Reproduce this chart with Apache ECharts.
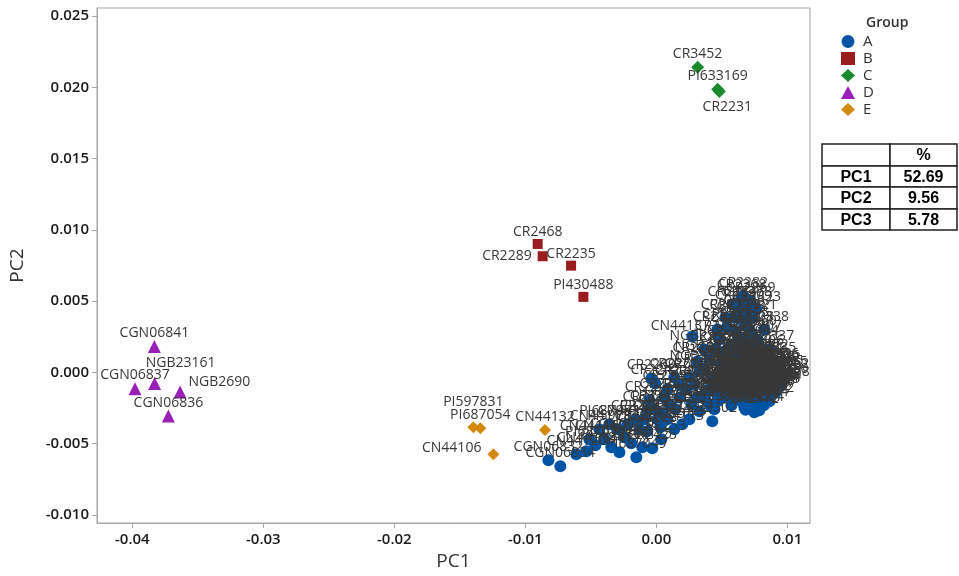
<!DOCTYPE html>
<html>
<head>
<meta charset="utf-8">
<script src="https://cdn.jsdelivr.net/npm/echarts/dist/echarts.min.js"></script>
<style>
  html, body { margin: 0; padding: 0; background: #fff; }
  #chart { width: 959px; height: 576px; }
</style>
</head>
<body>
<div id="chart"></div>
<script>
// [name, PC1, PC2]
const groupA = [
  ['CGN06832', -0.00824, -0.00616], ['CGN06834', -0.00733, -0.00658], ['CN44120', -0.00611, -0.00574],
  ['CN44118', -0.00534, -0.00553], ['PI687050', -0.00466, -0.00511], ['CN44109', -0.00397, -0.00469],
  ['PI597830', -0.00344, -0.00525], ['CN44115', -0.00282, -0.00560], ['CGN06838', -0.00244, -0.00455],
  ['CN44121', -0.00191, -0.00497], ['PI687049', -0.00153, -0.00595], ['CN44125', -0.00107, -0.00525],
  ['CR2425', -0.00031, -0.00532], ['CN44128', -0.00069, -0.00413], ['CR2261', -0.00130, -0.00399],
  ['PI597829', -0.00298, -0.00399], ['CN44130', -0.00221, -0.00364], ['CR2246', -0.00053, -0.00196],
  ['CR2269', -0.00038, -0.00042], ['CR2242', -0.00008, -0.00077], ['CR2241', -0.00069, -0.00266],
  ['CR2253', 0.00038, -0.00469], ['CR2255', 0.00031, -0.00385], ['CR2273', 0.00084, -0.00329],
  ['CN44113', 0.00137, -0.00399], ['CR2423', 0.00198, -0.00364], ['CR2274', 0.00252, -0.00329],
  ['CN44137', 0.00275, 0.00252], ['CR2302', 0.00427, -0.00343], ['CR2277', 0.00328, -0.00273],
  ['CR2281', 0.00374, -0.00189], ['CR2257', 0.00099, -0.00224], ['CR2258', 0.00176, -0.00175],
  ['CR2262', 0.00229, -0.00119], ['CR2263', 0.00290, -0.00084], ['CR2254', 0.00046, -0.00287],
  ['CR2259', 0.00145, -0.00259], ['CR2265', 0.00267, -0.00224], ['CR2312', 0.00748, -0.00280],
  ['CR2324', 0.00672, -0.00245], ['CR2296', 0.00573, -0.00231], ['CR2291', 0.00519, -0.00175],
  ['CR2286', 0.00466, -0.00154], ['CR2283', 0.00420, -0.00084], ['NGB23160', 0.00366, 0.00021],
  ['NGB23158', 0.00405, 0.00091], ['CR2966', 0.00443, 0.00161], ['CR2292', 0.00481, 0.00231],
  ['CR2288', 0.00542, 0.00315], ['CR2279', 0.00595, 0.00385], ['CR2280', 0.00634, 0.00455],
  ['CR2278', 0.00695, 0.00476], ['CR2284', 0.00580, 0.00476], ['CR2298', 0.00649, 0.00371],
  ['CR2308', 0.00710, 0.00301], ['CR2293', 0.00519, 0.00147], ['CR2295', 0.00573, 0.00196],
  ['CR2299', 0.00634, 0.00245], ['CR2964', 0.00748, 0.00196], ['CR2306', 0.00786, 0.00126],
  ['CR2300', 0.00618, 0.00091], ['CR2304', 0.00695, 0.00056], ['CR2316', 0.00824, 0.00035],
  ['CR2318', 0.00878, -0.00014], ['CR2320', 0.00920, -0.00049], ['CN44150', 0.00935, -0.00070],
  ['CN44152', 0.00940, -0.00035], ['CR2322', 0.00915, 0.00007], ['CR2326', 0.00901, -0.00105],
  ['CR2328', 0.00824, -0.00154], ['CR2330', 0.00771, -0.00084], ['CR2310', 0.00649, -0.00119],
  ['CR2297', 0.00557, -0.00084], ['CR2290', 0.00481, -0.00014], ['CR2294', 0.00542, 0.00035],
  ['CR2314', 0.00725, -0.00189], ['CR2332', 0.00863, -0.00203], ['CR2311', 0.00618, -0.00161],
  ['CR2287', 0.00443, -0.00259], ['CR3024', 0.00786, -0.00266], ['CR2285', 0.00496, 0.00077],
  ['CR2301', 0.00595, 0.00007], ['CR2305', 0.00672, -0.00035], ['CR2309', 0.00748, 0.00007],
  ['CR2315', 0.00802, -0.00049], ['CR2319', 0.00847, -0.00105], ['CR2325', 0.00910, -0.00140],
  ['CR2327', 0.00925, -0.00091], ['CR2303', 0.00695, 0.00161], ['CR2307', 0.00771, 0.00231],
  ['CR2313', 0.00672, 0.00336], ['CR2317', 0.00603, 0.00287], ['CR2272', 0.00527, 0.00385],
  ['CR2321', 0.00733, 0.00385], ['CR2323', 0.00763, 0.00441], ['CR2282', 0.00664, 0.00539],
  ['CR2329', 0.00595, 0.00126], ['CR2275', 0.00443, -0.00035], ['CR2276', 0.00389, -0.00133],
  ['CR2271', 0.00313, -0.00175], ['CR2370', 0.00496, -0.00105], ['CR2331', 0.00580, -0.00175],
  ['CR2333', 0.00649, -0.00203], ['CR2334', 0.00802, 0.00056], ['CR2335', 0.00880, 0.00077],
  ['CR2336', 0.00905, 0.00021], ['CR2337', 0.00863, 0.00161], ['CR2338', 0.00824, 0.00301],
  ['CN44155', 0.00930, -0.00021], ['CN44158', 0.00945, -0.00091], ['CN44111', -0.00435, -0.00399],
  ['PI687052', -0.00359, -0.00364], ['CN44116', -0.00511, -0.00469], ['CR2248', -0.00160, -0.00329],
  ['CR2249', -0.00092, -0.00329], ['CR2250', 0.00008, -0.00329], ['CR2243', -0.00015, -0.00259],
  ['CR2244', 0.00061, -0.00175], ['CR2245', 0.00084, -0.00119], ['CR2266', 0.00176, -0.00084],
  ['CR2267', 0.00137, -0.00035], ['CR2268', 0.00252, -0.00035], ['CR2270', 0.00328, 0.00007],
  ['CR2264', 0.00313, 0.00077], ['NGB23159', 0.00366, 0.00161], ['CR2339', 0.00466, 0.00301],
  ['CR2340', 0.00510, 0.00050], ['CR2341', 0.00560, -0.00040], ['CR2342', 0.00620, -0.00020],
  ['CR2343', 0.00690, -0.00100], ['CR2344', 0.00740, -0.00060], ['CR2345', 0.00780, -0.00140],
  ['CR2346', 0.00840, -0.00060], ['CR2347', 0.00880, -0.00110], ['CR2348', 0.00920, -0.00100],
  ['CR2349', 0.00720, 0.00100], ['CR2350', 0.00650, 0.00020], ['CR2351', 0.00600, -0.00110],
  ['CR2352', 0.00700, -0.00150], ['CR2353', 0.00760, -0.00200], ['CR2354', 0.00820, -0.00230],
  ['CR2355', 0.00540, -0.00130], ['CR2356', 0.00470, -0.00200], ['CR2357', 0.00410, -0.00230],
  ['CR2358', 0.00620, 0.00150], ['CR2359', 0.00680, 0.00230], ['CR2360', 0.00730, 0.00270],
  ['CR2361', 0.00790, 0.00080], ['CR2362', 0.00850, 0.00030], ['CR2363', 0.00890, -0.00040],
  ['CR2364', 0.00915, -0.00120], ['CR2365', 0.00935, -0.00010], ['CR2366', 0.00900, 0.00040],
  ['CR2367', 0.00700, 0.00410], ['CR2368', 0.00650, 0.00520], ['CR2369', 0.00720, 0.00500],
  // dense core
  ['CR2401', 0.00598, -0.00052], ['CR2402', 0.00612, -0.00098], ['CR2403', 0.00627, -0.00141],
  ['CR2404', 0.00641, -0.00066], ['CR2405', 0.00655, -0.00183], ['CR2406', 0.00668, -0.00112],
  ['CR2407', 0.00676, -0.00058], ['CR2408', 0.00684, -0.00157], ['CR2409', 0.00693, -0.00201],
  ['CR2410', 0.00702, -0.00079], ['CR2411', 0.00709, -0.00128], ['CR2412', 0.00715, -0.00172],
  ['CR2413', 0.00722, -0.00043], ['CR2414', 0.00731, -0.00095], ['CR2415', 0.00737, -0.00148],
  ['CR2416', 0.00744, -0.00209], ['CR2417', 0.00752, -0.00067], ['CR2418', 0.00757, -0.00118],
  ['CR2419', 0.00763, -0.00163], ['CR2420', 0.00770, -0.00034], ['CR2421', 0.00776, -0.00102],
  ['CR2422', 0.00783, -0.00188], ['CR2426', 0.00790, -0.00071], ['CR2427', 0.00796, -0.00135],
  ['CR2428', 0.00803, -0.00012], ['CR2429', 0.00810, -0.00088], ['CR2430', 0.00817, -0.00176],
  ['CR2431', 0.00823, -0.00119], ['CR2432', 0.00830, -0.00049], ['CR2433', 0.00838, -0.00157],
  ['CR2434', 0.00845, -0.00080], ['CR2435', 0.00853, -0.00132], ['CR2436', 0.00861, -0.00028],
  ['CR2437', 0.00869, -0.00168], ['CR2438', 0.00877, -0.00076], ['CR2439', 0.00885, -0.00121],
  ['CR2440', 0.00607, -0.00021], ['CR2441', 0.00639, -0.00112], ['CR2442', 0.00662, -0.00026],
  ['CR2443', 0.00688, -0.00131], ['CR2444', 0.00711, -0.00062], ['CR2445', 0.00733, -0.00177],
  ['CR2446', 0.00749, -0.00104], ['CR2447', 0.00766, -0.00054], ['CR2448', 0.00788, -0.00149],
  ['CR2449', 0.00806, -0.00061], ['CR2450', 0.00826, -0.00143], ['CR2451', 0.00848, -0.00097],
  ['CR2452', 0.00866, -0.00055], ['CR2453', 0.00630, -0.00195], ['CR2454', 0.00697, -0.00221],
  ['CR2455', 0.00759, -0.00236], ['CR2456', 0.00729, -0.00254], ['CR2457', 0.00681, -0.00262],
  ['CR2458', 0.00580, -0.00061], ['CR2459', 0.00565, -0.00121], ['CR2460', 0.00588, -0.00158],
  ['CR2461', 0.00545, 0.00012], ['CR2462', 0.00622, 0.00041], ['CR2463', 0.00690, 0.00008],
  ['CR2464', 0.00741, 0.00030], ['CR2465', 0.00795, 0.00019], ['CR2466', 0.00842, 0.00004],
  ['CR2467', 0.00872, -0.00022], ['CR2469', 0.00652, 0.00072], ['CR2470', 0.00712, 0.00061],
  ['CR2471', 0.00768, 0.00085], ['CR2472', 0.00822, 0.00102], ['CR2473', 0.00757, -0.00273],
  ['CR2474', 0.00535, -0.00092], ['CR2475', 0.00571, -0.00143], ['CR2476', 0.00603, -0.00187],
  ['CR2477', 0.00646, -0.00159], ['CR2478', 0.00677, -0.00194], ['CR2479', 0.00719, -0.00211],
  ['CR2480', 0.00773, -0.00219], ['CR2481', 0.00807, -0.00196], ['CR2482', 0.00838, -0.00184],
  ['CR2483', 0.00872, -0.00151], ['CR2484', 0.00899, -0.00127], ['CR2485', 0.00528, -0.00146],
  ['CR2486', 0.00617, -0.00129], ['CR2487', 0.00705, -0.00104], ['CR2488', 0.00795, -0.00109],
  ['CR2489', 0.00858, -0.00113], ['CR2490', 0.00742, -0.00128], ['CR2491', 0.00664, -0.00081]
];
const groupB = [
  ['CR2468', -0.00906, 0.00901], ['CR2289', -0.00868, 0.00815],
  ['CR2235', -0.00651, 0.00749], ['PI430488', -0.00557, 0.00530]
];
const groupC = [
  ['CR3452', 0.00315, 0.02141], ['PI633169', 0.00468, 0.01987], ['CR2231', 0.00481, 0.01971]
];
const groupD = [
  ['CGN06841', -0.03832, 0.00182], ['NGB23161', -0.03830, -0.00077], ['CGN06837', -0.03980, -0.00114],
  ['NGB2690', -0.03636, -0.00138], ['CGN06836', -0.03725, -0.00306]
];
const groupE = [
  ['PI597831', -0.01397, -0.00385], ['PI687054', -0.01344, -0.00392],
  ['CN44132', -0.00850, -0.00404], ['CN44106', -0.01244, -0.00574]
];

const groupNames = ['A', 'B', 'C', 'D', 'E'];
const pcNames = ['PC1', 'PC2', 'PC3'];
const pcPercent = ['52.69', '9.56', '5.78'];

const groupColors = ['#0054a6', '#9b1c1f', '#1a8a2c', '#9a1fb6', '#d38a0c'];
const groupSymbols = ['circle', 'rect', 'diamond', 'triangle', 'diamond'];
const groupSizes = [12, 10, 13, 13, 12];

// labels that were pushed away from the default "above" spot
const labelTweak = {
  CR2289: { position: 'left', distance: 6 },
  CR2231: { position: 'bottom', distance: 2, offset: [8, 0] },
  CN44106: { position: 'left', distance: 6, offset: [0, -6] },
  NGB2690: { position: 'right', distance: 2, offset: [0, -10] },
  NGB23161: { position: 'top', offset: [26, -7] },
  PI597831: { position: 'top', offset: [0, -12] },
  CN44137: { position: 'top', offset: [-12, 3] }
};

const fontFam = '"Open Sans", "Noto Sans", sans-serif';
const chart = echarts.init(document.getElementById('chart'));

const toItems = (rows) => rows.map(r => {
  const item = { name: r[0], value: [r[1], r[2]] };
  if (labelTweak[r[0]]) item.label = labelTweak[r[0]];
  return item;
});

const groupData = [groupA, groupB, groupC, groupD, groupE];

const series = groupNames.map((g, i) => ({
  name: g,
  type: 'scatter',
  symbol: groupSymbols[i],
  symbolSize: groupSizes[i],
  itemStyle: { color: groupColors[i], opacity: 1 },
  data: toItems(groupData[i]),
  label: {
    show: true,
    position: 'top',
    distance: 0,
    formatter: p => p.name,
    fontFamily: fontFam,
    fontSize: 14,
    color: '#383838'
  },
  emphasis: { disabled: true }
}));

// table of explained variance
const tblLeft = 822, tblTop = 144, colW = [68, 67], rowH = [22, 21, 22, 21];
const tableGraphics = [];
let yy = tblTop;
const rowsText = [['', '%']].concat(pcNames.map((n, i) => [n, pcPercent[i]]));
rowsText.forEach((row, r) => {
  let xx = tblLeft;
  row.forEach((txt, c) => {
    tableGraphics.push({
      type: 'rect',
      shape: { x: xx, y: yy, width: colW[c], height: rowH[r] },
      style: { fill: '#fff', stroke: '#222', lineWidth: 1.5 }
    });
    tableGraphics.push({
      type: 'text',
      x: xx + colW[c] / 2,
      y: yy + rowH[r] / 2 + 1,
      style: {
        text: txt, align: 'center', verticalAlign: 'middle',
        font: 'bold 16px "Liberation Sans", Arial, sans-serif', fill: '#000'
      }
    });
    xx += colW[c];
  });
  yy += rowH[r];
});

const option = {
  backgroundColor: '#fff',
  animation: false,
  grid: { left: 97, right: 149, top: 8, bottom: 52, show: true, borderColor: '#a6a6a6', borderWidth: 1 },
  xAxis: {
    type: 'value',
    min: -0.0427,
    max: 0.01173,
    splitNumber: 5,
    minInterval: 0.01,
    maxInterval: 0.01,
    name: 'PC1',
    nameLocation: 'middle',
    nameGap: 29,
    nameTextStyle: { fontFamily: fontFam, fontSize: 19, color: '#333' },
    axisLine: { show: true, onZero: false, lineStyle: { color: '#a6a6a6' } },
    axisTick: { show: true, length: 5, lineStyle: { color: '#a6a6a6' } },
    splitLine: { show: false },
    axisLabel: {
      showMinLabel: false, showMaxLabel: false,
      margin: 9,
      fontFamily: fontFam, fontSize: 15, fontWeight: 600, color: '#1a1a1a',
      formatter: v => (Math.abs(v) < 1e-9 ? 0 : v).toFixed(2)
    }
  },
  yAxis: {
    type: 'value',
    min: -0.01056,
    max: 0.02556,
    splitNumber: 7,
    minInterval: 0.005,
    maxInterval: 0.005,
    name: 'PC2',
    nameLocation: 'middle',
    nameGap: 70,
    nameTextStyle: { fontFamily: fontFam, fontSize: 19, color: '#333' },
    axisLine: { show: true, onZero: false, lineStyle: { color: '#a6a6a6' } },
    axisTick: { show: true, length: 5, lineStyle: { color: '#a6a6a6' } },
    splitLine: { show: false },
    axisLabel: {
      showMinLabel: false, showMaxLabel: false,
      margin: 8,
      fontFamily: fontFam, fontSize: 15, fontWeight: 600, color: '#1a1a1a',
      formatter: v => (Math.abs(v) < 1e-9 ? 0 : v).toFixed(3)
    }
  },
  legend: {
    orient: 'vertical',
    left: 841,
    top: 34,
    padding: 0,
    itemWidth: 14,
    itemHeight: 13,
    itemGap: 2,
    data: groupNames,
    selectedMode: false,
    textStyle: { fontFamily: fontFam, fontSize: 15, lineHeight: 13, color: '#333', padding: [0, 0, 0, 3] }
  },
  graphic: [
    {
      type: 'text', left: 866, top: 16,
      style: { text: 'Group', font: '600 14px "Open Sans", sans-serif', fill: '#333' }
    }
  ].concat(tableGraphics),
  series: series
};

chart.setOption(option);
</script>
</body>
</html>
